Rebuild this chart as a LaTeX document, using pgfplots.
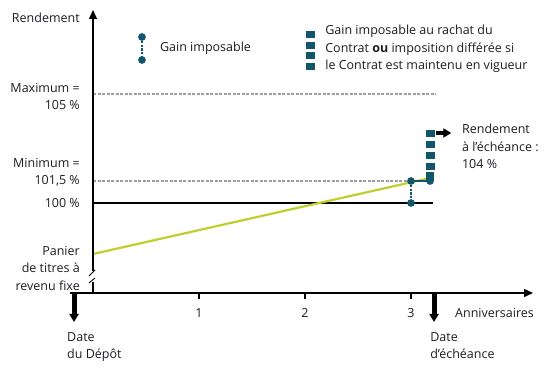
\documentclass[border=0pt]{standalone}
\usepackage{fontspec}
\setmainfont{Open Sans}
\usepackage{pgfplots}
\pgfplotsset{compat=1.18}
\usetikzlibrary{arrows.meta}
\definecolor{darkteal}{HTML}{12566B}
\definecolor{linegreen}{HTML}{BFCF2C}
\definecolor{txt}{HTML}{1C1C24}
\definecolor{dashgray}{HTML}{9A9E9E}
\begin{document}
\begin{tikzpicture}[font=\fontsize{12.5bp}{17.5bp}\selectfont, text=txt]
\begin{axis}[
  scale only axis, width=551bp, height=376bp,
  xmin=-0.87736, xmax=4.32075, ymin=-83, ymax=293,
  hide axis, clip=false,
]
\coordinate (bl) at (rel axis cs:0,0);
\coordinate (tr) at (rel axis cs:1,1);
% reference lines
\addplot[dashgray, line width=1.3bp, dash pattern=on 3bp off 1.5bp] coordinates {(0,199) (3.24,199)};
\addplot[dashgray, line width=1.3bp, dash pattern=on 3bp off 1.5bp] coordinates {(0,112) (3.0,112)};
\addplot[black, line width=2bp] coordinates {(0,90) (3.21,90)};
% green line
\addplot[linegreen, line width=2.2bp] coordinates {(0,39) (3.18,115)};
% x axis
\addplot[black, line width=1.4bp, -{Triangle[length=9bp,width=8bp]}] coordinates {(-0.217,0) (4.151,0)};
% y axis with break
\addplot[black, line width=1.4bp] coordinates {(0,0) (0,11)};
\addplot[black, line width=1.4bp, -{Triangle[length=9bp,width=8bp]}] coordinates {(0,22) (0,283)};
\addplot[black, line width=0.9bp] coordinates {(-0.038,17) (0.019,23)};
\addplot[black, line width=0.9bp] coordinates {(-0.038,10) (0.019,15)};
% ticks
\addplot[black, line width=1.2bp] coordinates {(1,1) (1,-6)};
\addplot[black, line width=1.2bp] coordinates {(2,1) (2,-6)};
\addplot[black, line width=1.2bp] coordinates {(3,1) (3,-6)};
% date arrows
\addplot[black, line width=5bp, -{Triangle[length=8bp,width=9bp]}] coordinates {(-0.179,0) (-0.179,-29)};
\addplot[black, line width=5bp, -{Triangle[length=8bp,width=9bp]}] coordinates {(3.217,0) (3.217,-29)};
% gain imposable at year 3
\addplot[darkteal, line width=2bp, dash pattern=on 2.2bp off 1.6bp] coordinates {(3,112) (3,90)};
\addplot[darkteal, line width=2bp] coordinates {(3,112) (3.18,112)};
\addplot[darkteal, only marks, mark=*, mark size=3.6bp] coordinates {(3,112) (3,90) (3.18,112)};
% squares column
\addplot[darkteal, only marks, mark=square*, mark size=3.8bp, mark options={yscale=0.8}] coordinates {(3.18,159.5) (3.18,148.5) (3.18,137.5) (3.18,127)};
\addplot[darkteal, line width=7.6bp] coordinates {(3.18,120.5) (3.18,112)};
% arrow to rendement
\addplot[black, line width=4.5bp, -{Triangle[length=8bp,width=9bp]}] coordinates {(3.236,160) (3.38,160)};
% legend 1
\addplot[darkteal, line width=2bp, dash pattern=on 2.2bp off 1.6bp] coordinates {(0.462,256) (0.462,233)};
\addplot[darkteal, only marks, mark=*, mark size=3.6bp] coordinates {(0.462,256) (0.462,233)};
% legend 2
\addplot[darkteal, only marks, mark=square*, mark size=3.8bp, mark options={yscale=0.8}] coordinates {(2.05,259) (2.05,248) (2.05,238) (2.05,227)};
% texts
\node[anchor=west] at (axis cs:0.60,245) {Gain imposable};
\node[anchor=north west, align=left, inner sep=0pt] at (axis cs:2.19,268) {Gain imposable au rachat du\\Contrat \textbf{ou} imposition différée si\\le Contrat est maintenu en vigueur};
\node[anchor=north west, align=left, inner sep=0pt] at (axis cs:3.48,169) {Rendement\\à l’échéance :\\104 \%};
\node[anchor=east, inner sep=0pt] at (axis cs:-0.123,275) {Rendement};
\node[anchor=east, align=right, inner sep=0pt] at (axis cs:-0.123,196.5) {Maximum =\\105 \%};
\node[anchor=east, align=right, inner sep=0pt] at (axis cs:-0.123,121) {Minimum =\\101,5 \%};
\node[anchor=east, inner sep=0pt] at (axis cs:-0.123,90) {100 \%};
\node[anchor=east, align=right, inner sep=0pt] at (axis cs:-0.123,25) {Panier\\de titres à\\revenu fixe};
\node[inner sep=0pt] at (axis cs:1,-20) {1};
\node[inner sep=0pt] at (axis cs:2,-20) {2};
\node[inner sep=0pt] at (axis cs:3,-20) {3};
\node[anchor=west, inner sep=0pt] at (axis cs:3.415,-20) {Anniversaires};
\node[anchor=north west, align=left, inner sep=0pt] at (axis cs:-0.245,-39) {Date\\du Dépôt};
\node[anchor=north west, align=left, inner sep=0pt] at (axis cs:3.18,-39) {Date\\d’échéance};
\end{axis}
\pgfresetboundingbox
\path (bl) rectangle (tr);
\end{tikzpicture}
\end{document}
